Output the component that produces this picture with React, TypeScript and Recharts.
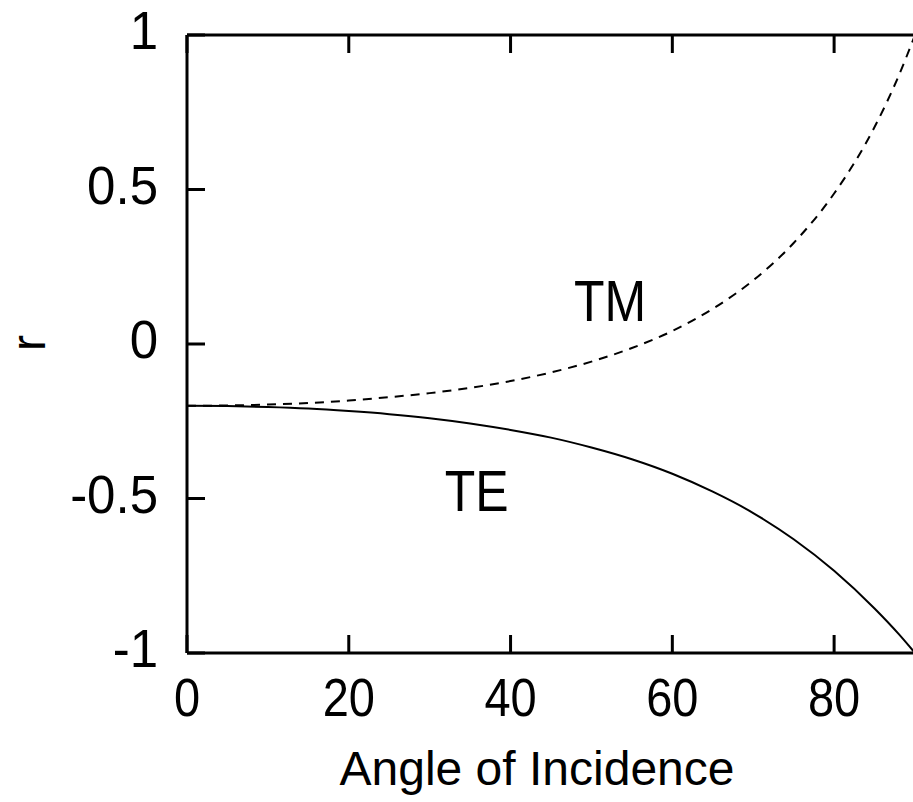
import React from 'react';
import {
  LineChart,
  Line,
  XAxis,
  YAxis,
  ReferenceDot,
} from 'recharts';

// angle of incidence (deg) and reflection coefficients
const angles = [0, 5, 10, 15, 20, 25, 30, 35, 40, 45, 50, 55, 60, 65, 70, 75, 80, 85, 88, 90];
const teValues = [-0.2, -0.201, -0.204, -0.209, -0.217, -0.227, -0.24, -0.257, -0.278, -0.303, -0.335, -0.373, -0.42, -0.478, -0.547, -0.632, -0.734, -0.856, -0.939, -1.0];
const tmValues = [-0.2, -0.199, -0.196, -0.191, -0.183, -0.172, -0.159, -0.142, -0.12, -0.092, -0.057, -0.013, 0.042, 0.114, 0.206, 0.327, 0.487, 0.702, 0.869, 1.0];

const xTicks = [0, 20, 40, 60, 80];
const yTicks = [-1, -0.5, 0, 0.5, 1];

const data = angles.map((a, i) => ({ angle: a, te: teValues[i], tm: tmValues[i] }));

const font = '"Liberation Sans", Arial, sans-serif';
const axisLine = { stroke: '#000', strokeWidth: 3 };
const TICK = 18;
const X_GAP = 25;
const Y_GAP = 29;

// bottom: label plus an inward tick drawn up from the axis line
const XTick = (props: any) => {
  const { x, y, payload } = props;
  const axisY = y - X_GAP;
  return (
    <g>
      <line x1={x} y1={axisY} x2={x} y2={axisY - TICK} stroke="#000" strokeWidth={3} />
      <g transform={`translate(${x},${y}) scale(1,1.13)`}>
        <text x={0} y={0} dy="0.71em" textAnchor="middle" fontSize={47} fontFamily={font} fill="#000">
          {payload.value}
        </text>
      </g>
    </g>
  );
};

const YTick = (props: any) => {
  const { x, y, payload } = props;
  const axisX = x + Y_GAP;
  return (
    <g>
      <line x1={axisX} y1={y} x2={axisX + TICK} y2={y} stroke="#000" strokeWidth={3} />
      <g transform={`translate(${x},${y - 5}) scale(1,1.05)`}>
        <text x={0} y={0} dy="0.355em" textAnchor="end" fontSize={51} fontFamily={font} fill="#000">
          {payload.value}
        </text>
      </g>
    </g>
  );
};

const TopTick = (props: any) => {
  const { x, y } = props;
  return <line x1={x} y1={y} x2={x} y2={y + TICK} stroke="#000" strokeWidth={3} />;
};

const RightTick = (props: any) => {
  const { x, y } = props;
  return <line x1={x} y1={y} x2={x - TICK} y2={y} stroke="#000" strokeWidth={3} />;
};

const XTitle = (props: any) => {
  const { viewBox } = props;
  const cx = viewBox.x + viewBox.width / 2 - 14;
  return (
    <text x={cx} y={785} textAnchor="middle" fontSize={48} fontFamily={font} fill="#000">
      Angle of Incidence
    </text>
  );
};

const YTitle = () => (
  <text x={45} y={343} transform="rotate(-90 45 343)" textAnchor="middle" fontSize={48} fontFamily={font} fill="#000">
    r
  </text>
);

const curveLabel = (text: string) => (props: any) => {
  const { viewBox } = props;
  return (
    <g transform={`translate(${viewBox.x},${viewBox.y}) scale(1,1.15)`}>
      <text x={0} y={0} textAnchor="middle" fontSize={50} fontFamily={font} fill="#000">
        {text}
      </text>
    </g>
  );
};

export default function App() {
  return (
    <div style={{ position: 'absolute', left: 0, top: 0, width: 913, height: 802, overflow: 'hidden', background: '#fff' }}>
      <LineChart width={930} height={802} data={data} margin={{ top: 34, right: 14, left: 0, bottom: 0 }}>
        <XAxis
          xAxisId="b"
          dataKey="angle"
          type="number"
          domain={[0, 90]}
          ticks={xTicks}
          interval={0}
          height={149}
          axisLine={axisLine}
          tickLine={false}
          tickSize={0}
          tickMargin={X_GAP}
          tick={<XTick />}
          label={<XTitle />}
        />
        <XAxis
          xAxisId="t"
          orientation="top"
          dataKey="angle"
          type="number"
          domain={[0, 90]}
          ticks={xTicks}
          interval={0}
          height={1}
          axisLine={axisLine}
          tickLine={false}
          tickSize={0}
          tickMargin={0}
          tick={<TopTick />}
        />
        <YAxis
          yAxisId="l"
          type="number"
          domain={[-1, 1]}
          ticks={yTicks}
          interval={0}
          width={187}
          axisLine={axisLine}
          tickLine={false}
          tickSize={0}
          tickMargin={Y_GAP}
          tick={<YTick />}
          label={<YTitle />}
        />
        <YAxis
          yAxisId="r"
          orientation="right"
          type="number"
          domain={[-1, 1]}
          ticks={yTicks}
          interval={0}
          width={1}
          axisLine={axisLine}
          tickLine={false}
          tickSize={0}
          tickMargin={0}
          tick={<RightTick />}
        />
        <Line
          xAxisId="b"
          yAxisId="l"
          type="monotone"
          dataKey="te"
          stroke="#000"
          strokeWidth={2}
          dot={false}
          isAnimationActive={false}
        />
        <Line
          xAxisId="b"
          yAxisId="l"
          type="monotone"
          dataKey="tm"
          stroke="#000"
          strokeWidth={2}
          strokeDasharray="9 7"
          dot={false}
          isAnimationActive={false}
        />
        <ReferenceDot xAxisId="b" yAxisId="l" x={52.3} y={0.074} r={0} fill="none" stroke="none" label={curveLabel('TM')} />
        <ReferenceDot xAxisId="b" yAxisId="l" x={35.8} y={-0.542} r={0} fill="none" stroke="none" label={curveLabel('TE')} />
      </LineChart>
    </div>
  );
}
